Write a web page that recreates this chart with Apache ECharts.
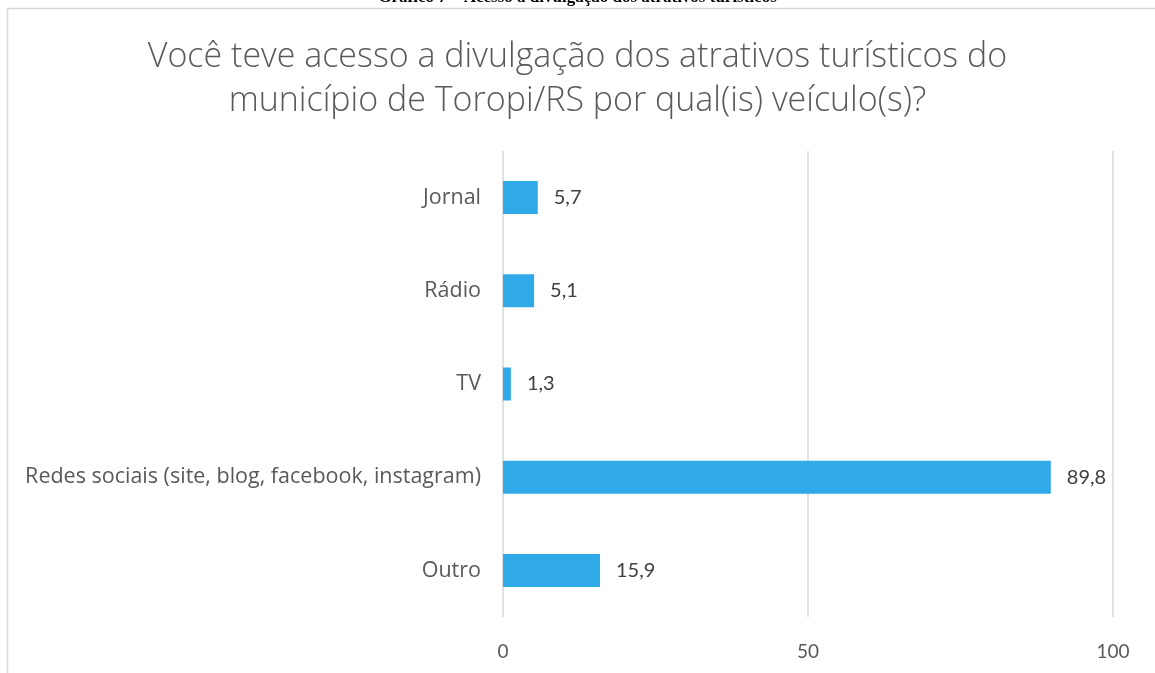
<!DOCTYPE html>
<html>
<head>
<meta charset="utf-8">
<script src="https://cdn.jsdelivr.net/npm/echarts@6/dist/echarts.min.js"></script>
<style>
  html, body { margin: 0; padding: 0; background: #fff; }
  #chart { width: 1155px; height: 673px; }
</style>
</head>
<body>
<div id="chart"></div>
<script>
// categorias e percentuais
var categorias = ['Jornal', 'Rádio', 'TV', 'Redes sociais (site, blog, facebook, instagram)', 'Outro'];
var valores = [5.7, 5.1, 1.3, 89.8, 15.9];
var ticksX = [0, 50, 100];

var myChart = echarts.init(document.getElementById('chart'));
myChart.setOption({
    animation: false,
    title: {
        text: 'Você teve acesso a divulgação dos atrativos turísticos do\nmunicípio de Toropi/RS por qual(is) veículo(s)?',
        left: 'center',
        top: 30,
        textStyle: {
            fontFamily: 'Open Sans',
            fontWeight: 300,
            fontSize: 34,
            lineHeight: 44,
            color: '#595959'
        }
    },
    graphic: [
        {
            // moldura do gráfico
            type: 'rect',
            shape: { x: 7.5, y: 8.5, width: 1200, height: 700 },
            style: { fill: 'none', stroke: '#d9d9d9', lineWidth: 1.5 },
            silent: true
        },
        {
            // legenda cortada no topo
            type: 'text',
            left: 'center',
            top: -11,
            style: {
                text: 'Gráfico 7 – Acesso a divulgação dos atrativos turísticos',
                font: 'bold 17px "Liberation Serif"',
                fill: '#000'
            }
        }
    ],
    grid: {
        left: 503,
        right: 42,
        top: 151,
        bottom: 56,
        outerBoundsMode: 'none',
        containLabel: false
    },
    xAxis: {
        type: 'value',
        min: 0,
        max: 100,
        interval: 50,
        axisLine: { show: false },
        axisTick: { show: false },
        splitLine: { lineStyle: { color: '#d9d9d9', width: 1.5 } },
        axisLabel: {
            margin: 25,
            fontFamily: 'Lato',
            fontSize: 19,
            color: '#595959',
            formatter: function (v) { return ticksX.indexOf(v) >= 0 ? String(v) : ''; }
        }
    },
    yAxis: {
        type: 'category',
        inverse: true,
        data: categorias,
        axisLine: { show: false },
        axisTick: { show: false },
        axisLabel: {
            margin: 22,
            fontFamily: 'Open Sans',
            fontSize: 21.5,
            color: '#595959'
        }
    },
    series: [
        {
            type: 'bar',
            data: valores,
            barWidth: 33,
            itemStyle: { color: '#2FA9E8' },
            label: {
                show: true,
                position: 'right',
                distance: 16,
                fontFamily: 'Lato',
                fontSize: 20,
                color: '#404040',
                formatter: function (p) { return String(p.value).replace('.', ','); }
            }
        }
    ]
});
</script>
</body>
</html>
